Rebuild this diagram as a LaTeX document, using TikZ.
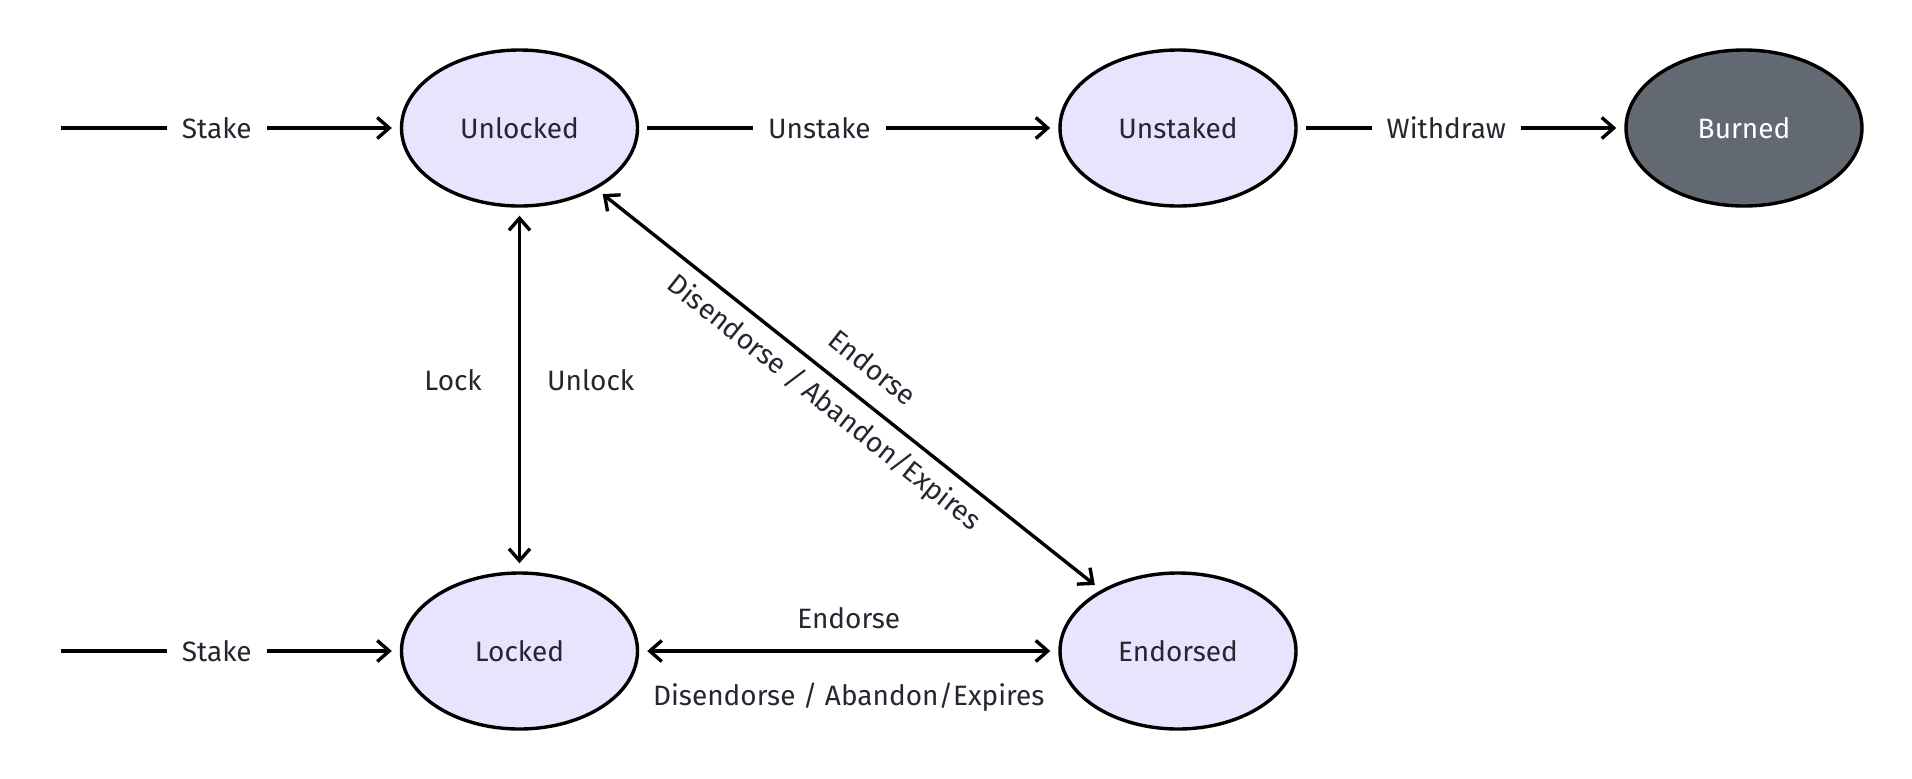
\documentclass[tikz,border=0pt]{standalone}
\usepackage{fontspec}
\setmainfont{Fira Sans}
\usetikzlibrary{arrows.meta,shapes.geometric}
\definecolor{statefill}{RGB}{234,227,254}
\definecolor{burnfill}{RGB}{99,105,115}
\definecolor{ink}{RGB}{38,38,48}

\begin{document}
\begin{tikzpicture}[
  x=0.5pt,y=-0.5pt,
  >={Straight Barb[length=6pt,width=10.5pt]},
  state/.style={ellipse,minimum width=118pt,minimum height=78pt,inner sep=0pt,
                draw=black,line width=1.7pt,fill=statefill,text=ink,
                font=\fontsize{14}{16}\selectfont},
  final/.style={state,fill=burnfill,text=white},
  trans/.style={black,line width=1.7pt,shorten <=4pt,shorten >=4pt},
  onedge/.style={fill=white,text=ink,inner xsep=7.5pt,inner ysep=2pt,
                 font=\fontsize{14}{16}\selectfont},
  tlabel/.style={text=ink,inner sep=2pt,font=\fontsize{14}{16}\selectfont}
]
\useasboundingbox (0,0) rectangle (1912,778);

% States
\node[state] (unlocked) at (519.5,128) {Unlocked};
\node[state] (unstaked) at (1178,128) {Unstaked};
\node[final] (burned)   at (1744,128) {Burned};
\node[state] (locked)   at (519.5,651) {Locked};
\node[state] (endorsed) at (1178,651) {Endorsed};

% Entry points
\coordinate (start1) at (61,128);
\coordinate (start2) at (61,651);

% Top row
\draw[trans,->,shorten <=0pt] (start1) -- (unlocked) node[onedge,pos=0.46] {Stake};
\draw[trans,->] (unlocked) -- (unstaked) node[onedge,pos=0.43] {Unstake};
\draw[trans,->] (unstaked) -- (burned) node[onedge,pos=0.455] {Withdraw};

% Lock / unlock
\draw[trans,<->] (unlocked) -- (locked)
  node[tlabel,pos=0.475,left=16pt] {Lock}
  node[tlabel,pos=0.475,right=11pt] {Unlock};

% Endorsement from the unlocked state
\draw[trans,<->] (unlocked) -- (endorsed)
  node[tlabel,pos=0.508,sloped,above=8pt] {Endorse}
  node[tlabel,pos=0.483,sloped,below=3pt] {Disendorse / Abandon/Expires};

% Bottom row
\draw[trans,->,shorten <=0pt] (start2) -- (locked) node[onedge,pos=0.46] {Stake};
\draw[trans,<->] (locked) -- (endorsed)
  node[tlabel,pos=0.5,above=8pt] {Endorse}
  node[tlabel,pos=0.5,below=13pt] {Disendorse / Abandon/Expires};
\end{tikzpicture}
\end{document}
